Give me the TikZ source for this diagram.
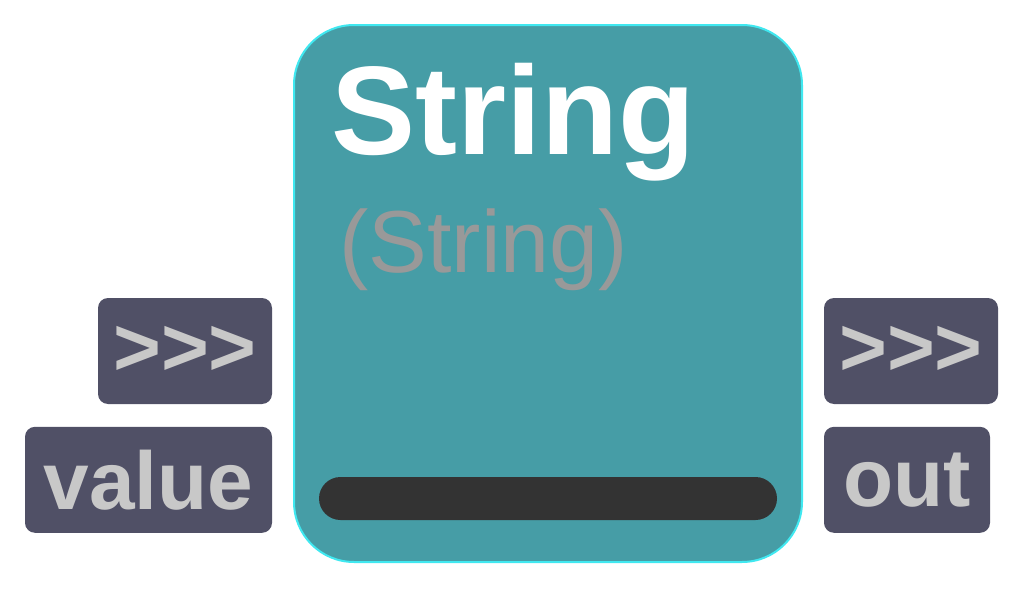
\documentclass[tikz,border=0pt]{standalone}
\usepackage{fontspec}
\setmainfont{Liberation Sans}
\usepackage{xcolor}
\usetikzlibrary{positioning}
\definecolor{blockteal}{HTML}{469DA6}
\definecolor{blockedge}{HTML}{40E8F0}
\definecolor{portgray}{HTML}{505066}
\definecolor{porttext}{HTML}{C8C8C8}
\definecolor{subgray}{HTML}{999999}
\definecolor{bardark}{HTML}{333333}

\begin{document}
\begin{tikzpicture}[x=0.5pt, y=-0.5pt,
    block/.style={rectangle, draw=blockedge, line width=1pt, fill=blockteal, rounded corners=30pt, minimum width=254pt, minimum height=268.5pt},
    port/.style={rectangle, fill=portgray, text=porttext, rounded corners=5pt, minimum height=53pt, inner sep=0pt, font=\fontsize{41}{41}\selectfont\bfseries},
    title/.style={anchor=base west, inner sep=0pt, text=white, font=\fontsize{63}{63}\selectfont\bfseries},
    subtitle/.style={anchor=base west, inner sep=0pt, text=subgray, font=\fontsize{44}{44}\selectfont}
]
\useasboundingbox (0,0) rectangle (1030,594);

% Main block
\node[block] (string) at (548,293.5) {};
\node[title] (name) at (331,155) {String};
\node[subtitle] (type) at (339,272) {(String)};
\fill[bardark, rounded corners=10.75pt] (319,477) rectangle (777,520);

% Inputs
\node[port, minimum width=87pt] (inexec) at (185,351) {>{}>{}>};
\node[port, minimum width=123.5pt, below=11pt of inexec.south east, anchor=north east] (value) {value};

% Outputs
\node[port, minimum width=87pt] (outexec) at (911,351) {>{}>{}>};
\node[port, minimum width=83pt, below=11pt of outexec.south west, anchor=north west] (out) {out};

\end{tikzpicture}
\end{document}
